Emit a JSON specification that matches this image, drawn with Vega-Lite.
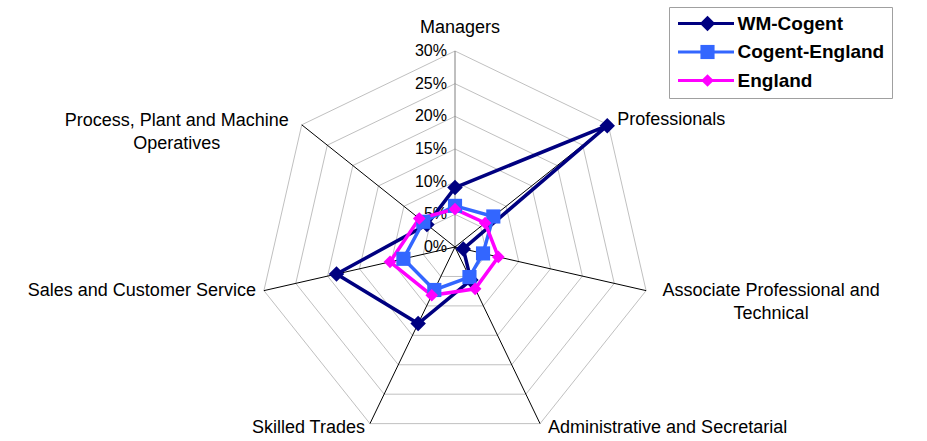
{
  "$schema": "https://vega.github.io/schema/vega-lite/v6.json",
  "autosize": {"type": "fit", "contains": "padding"},
  "width": 927,
  "height": 441,
  "padding": 0,
  "background": "white",
  "config": {"view": {"stroke": null}, "font": "Liberation Sans", "text": {"font": "Liberation Sans"}},
  "datasets": {
    "cats": [
      {"idx": 0, "cat": "Managers"},
      {"idx": 1, "cat": "Professionals"},
      {"idx": 2, "cat": "Associate Professional and\nTechnical"},
      {"idx": 3, "cat": "Administrative and Secretarial"},
      {"idx": 4, "cat": "Skilled Trades"},
      {"idx": 5, "cat": "Sales and Customer Service"},
      {"idx": 6, "cat": "Process, Plant and Machine\nOperatives"}
    ],
    "rings": [
      {"level": 5, "k": [0, 1, 2, 3, 4, 5, 6]},
      {"level": 10, "k": [0, 1, 2, 3, 4, 5, 6]},
      {"level": 15, "k": [0, 1, 2, 3, 4, 5, 6]},
      {"level": 20, "k": [0, 1, 2, 3, 4, 5, 6]},
      {"level": 25, "k": [0, 1, 2, 3, 4, 5, 6]},
      {"level": 30, "k": [0, 1, 2, 3, 4, 5, 6]}
    ],
    "ticks": [
      {"level": 0, "label": "0%"},
      {"level": 5, "label": "5%"},
      {"level": 10, "label": "10%"},
      {"level": 15, "label": "15%"},
      {"level": 20, "label": "20%"},
      {"level": 25, "label": "25%"},
      {"level": 30, "label": "30%"}
    ],
    "series": [
      {"series": "WM-Cogent", "idx": 0, "value": 9.1},
      {"series": "WM-Cogent", "idx": 1, "value": 29.8},
      {"series": "WM-Cogent", "idx": 2, "value": 1.3},
      {"series": "WM-Cogent", "idx": 3, "value": 5.6},
      {"series": "WM-Cogent", "idx": 4, "value": 13.0},
      {"series": "WM-Cogent", "idx": 5, "value": 18.6},
      {"series": "WM-Cogent", "idx": 6, "value": 5.5},
      {"series": "Cogent-England", "idx": 0, "value": 6.3},
      {"series": "Cogent-England", "idx": 1, "value": 7.5},
      {"series": "Cogent-England", "idx": 2, "value": 4.4},
      {"series": "Cogent-England", "idx": 3, "value": 5.1},
      {"series": "Cogent-England", "idx": 4, "value": 7.3},
      {"series": "Cogent-England", "idx": 5, "value": 8.1},
      {"series": "Cogent-England", "idx": 6, "value": 6.2},
      {"series": "England", "idx": 0, "value": 5.8},
      {"series": "England", "idx": 1, "value": 5.9},
      {"series": "England", "idx": 2, "value": 6.8},
      {"series": "England", "idx": 3, "value": 7.1},
      {"series": "England", "idx": 4, "value": 8.2},
      {"series": "England", "idx": 5, "value": 10.2},
      {"series": "England", "idx": 6, "value": 7.0}
    ]
  },
  "encoding": {
    "x": {"field": "px", "type": "quantitative", "scale": {"domain": [-69.64, 72.24], "nice": false, "zero": false}, "axis": null},
    "y": {"field": "py", "type": "quantitative", "scale": {"domain": [-29.69, 37.81], "nice": false, "zero": false}, "axis": null}
  },
  "layer": [
    {
      "data": {"name": "rings"},
      "transform": [
        {"flatten": ["k"]},
        {"calculate": "datum.level * sin(datum.k * 2 * PI / 7)", "as": "px"},
        {"calculate": "datum.level * cos(datum.k * 2 * PI / 7)", "as": "py"}
      ],
      "mark": {"type": "line", "interpolate": "linear-closed", "stroke": "#c0c0c0", "strokeWidth": 1},
      "encoding": {"detail": {"field": "level"}, "order": {"field": "k", "type": "quantitative"}}
    },
    {
      "data": {"name": "cats"},
      "transform": [
        {"calculate": "30 * sin(datum.idx * 2 * PI / 7)", "as": "px"},
        {"calculate": "30 * cos(datum.idx * 2 * PI / 7)", "as": "py"}
      ],
      "mark": {"type": "rule", "strokeWidth": 1},
      "encoding": {
        "x2": {"datum": 0},
        "y2": {"datum": 0},
        "color": {"condition": {"test": "datum.idx == 0", "value": "#808080"}, "value": "#000000"}
      }
    },
    {
      "data": {"name": "ticks"},
      "transform": [
        {"calculate": "0", "as": "px"},
        {"calculate": "datum.level", "as": "py"}
      ],
      "mark": {"type": "text", "align": "right", "baseline": "middle", "dx": -8, "fontSize": 16, "color": "#000000"},
      "encoding": {"text": {"field": "label"}}
    },
    {
      "data": {"name": "series"},
      "transform": [
        {"calculate": "datum.series", "as": "line_series"},
        {"calculate": "datum.value * sin(datum.idx * 2 * PI / 7)", "as": "px"},
        {"calculate": "datum.value * cos(datum.idx * 2 * PI / 7)", "as": "py"}
      ],
      "mark": {"type": "line", "interpolate": "linear-closed", "strokeWidth": 3.5},
      "encoding": {
        "stroke": {
          "field": "line_series", "type": "nominal",
          "sort": ["WM-Cogent", "Cogent-England", "England"],
          "scale": {"range": ["#000080", "#3366FF", "#FF00FF"]},
          "legend": {
            "title": null, "orient": "none", "legendX": 669, "legendY": 7,
            "padding": 7, "rowPadding": 8.5, "strokeColor": "#a0a0a0", "fillColor": null,
            "labelFont": "Liberation Sans", "labelFontSize": 19, "labelFontWeight": "bold", "labelColor": "#000000",
            "symbolType": "M-5.6,0L5.6,0", "symbolSize": 100, "symbolStrokeWidth": 3,
            "symbolOffset": 20.5, "labelOffset": 22, "zindex": 1
          }
        },
        "order": {"field": "idx", "type": "quantitative"}
      }
    },
    {
      "data": {"name": "series"},
      "transform": [
        {"calculate": "datum.value * sin(datum.idx * 2 * PI / 7)", "as": "px"},
        {"calculate": "datum.value * cos(datum.idx * 2 * PI / 7)", "as": "py"}
      ],
      "mark": {"type": "point", "filled": true, "opacity": 1},
      "encoding": {
        "color": {
          "field": "series", "type": "nominal",
          "scale": {"domain": ["WM-Cogent", "Cogent-England", "England"], "range": ["#000080", "#3366FF", "#FF00FF"]},
          "legend": {
            "title": null, "orient": "none", "legendX": 669, "legendY": 7,
            "padding": 7, "rowPadding": 8.5, "strokeColor": null, "fillColor": null,
            "labelFont": "Liberation Sans", "labelFontSize": 19, "labelFontWeight": "bold", "labelColor": "#000000", "labelOpacity": 0,
            "symbolSize": 90, "symbolStrokeWidth": 0, "symbolOpacity": 1,
            "symbolOffset": 22, "labelOffset": 25, "zindex": 2
          }
        },
        "shape": {
          "field": "series", "type": "nominal",
          "scale": {"domain": ["WM-Cogent", "Cogent-England", "England"], "range": ["diamond", "square", "diamond"]},
          "legend": {
            "title": null, "orient": "none", "legendX": 669, "legendY": 7,
            "padding": 7, "rowPadding": 8.5, "strokeColor": null, "fillColor": null,
            "labelFont": "Liberation Sans", "labelFontSize": 19, "labelFontWeight": "bold", "labelColor": "#000000", "labelOpacity": 0,
            "symbolSize": 90, "symbolStrokeWidth": 0, "symbolOpacity": 1,
            "symbolOffset": 22, "labelOffset": 25, "zindex": 2
          }
        },
        "size": {
          "field": "series", "type": "nominal",
          "scale": {"domain": ["WM-Cogent", "Cogent-England", "England"], "range": [240, 160, 240]},
          "legend": null
        },
        "order": {"field": "idx", "type": "quantitative"}
      }
    },
    {
      "data": {"name": "cats"},
      "transform": [
        {"filter": "datum.idx == 0"},
        {"calculate": "30 * sin(datum.idx * 2 * PI / 7)", "as": "px"},
        {"calculate": "30 * cos(datum.idx * 2 * PI / 7)", "as": "py"}
      ],
      "mark": {"type": "text", "align": "center", "baseline": "middle", "dx": 5, "dy": -23, "fontSize": 18, "color": "#000000"},
      "encoding": {"text": {"field": "cat"}}
    },
    {
      "data": {"name": "cats"},
      "transform": [
        {"filter": "datum.idx == 1"},
        {"calculate": "30 * sin(datum.idx * 2 * PI / 7)", "as": "px"},
        {"calculate": "30 * cos(datum.idx * 2 * PI / 7)", "as": "py"}
      ],
      "mark": {"type": "text", "align": "left", "baseline": "middle", "dx": 9, "dy": -5, "fontSize": 18, "color": "#000000"},
      "encoding": {"text": {"field": "cat"}}
    },
    {
      "data": {"name": "cats"},
      "transform": [
        {"filter": "datum.idx == 2"},
        {"calculate": "30 * sin(datum.idx * 2 * PI / 7)", "as": "px"},
        {"calculate": "30 * cos(datum.idx * 2 * PI / 7)", "as": "py"}
      ],
      "mark": {"type": "text", "align": "center", "baseline": "middle", "dx": 125, "dy": 0, "fontSize": 18, "lineBreak": "\n", "lineHeight": 23, "color": "#000000"},
      "encoding": {"text": {"field": "cat"}}
    },
    {
      "data": {"name": "cats"},
      "transform": [
        {"filter": "datum.idx == 3"},
        {"calculate": "30 * sin(datum.idx * 2 * PI / 7)", "as": "px"},
        {"calculate": "30 * cos(datum.idx * 2 * PI / 7)", "as": "py"}
      ],
      "mark": {"type": "text", "align": "left", "baseline": "middle", "dx": 8, "dy": 4, "fontSize": 18, "color": "#000000"},
      "encoding": {"text": {"field": "cat"}}
    },
    {
      "data": {"name": "cats"},
      "transform": [
        {"filter": "datum.idx == 4"},
        {"calculate": "30 * sin(datum.idx * 2 * PI / 7)", "as": "px"},
        {"calculate": "30 * cos(datum.idx * 2 * PI / 7)", "as": "py"}
      ],
      "mark": {"type": "text", "align": "right", "baseline": "middle", "dx": -5, "dy": 4, "fontSize": 18, "color": "#000000"},
      "encoding": {"text": {"field": "cat"}}
    },
    {
      "data": {"name": "cats"},
      "transform": [
        {"filter": "datum.idx == 5"},
        {"calculate": "30 * sin(datum.idx * 2 * PI / 7)", "as": "px"},
        {"calculate": "30 * cos(datum.idx * 2 * PI / 7)", "as": "py"}
      ],
      "mark": {"type": "text", "align": "right", "baseline": "middle", "dx": -8, "dy": 0, "fontSize": 18, "color": "#000000"},
      "encoding": {"text": {"field": "cat"}}
    },
    {
      "data": {"name": "cats"},
      "transform": [
        {"filter": "datum.idx == 6"},
        {"calculate": "30 * sin(datum.idx * 2 * PI / 7)", "as": "px"},
        {"calculate": "30 * cos(datum.idx * 2 * PI / 7)", "as": "py"}
      ],
      "mark": {"type": "text", "align": "center", "baseline": "middle", "dx": -125, "dy": -4, "fontSize": 18, "lineBreak": "\n", "lineHeight": 23, "color": "#000000"},
      "encoding": {"text": {"field": "cat"}}
    }
  ]
}
